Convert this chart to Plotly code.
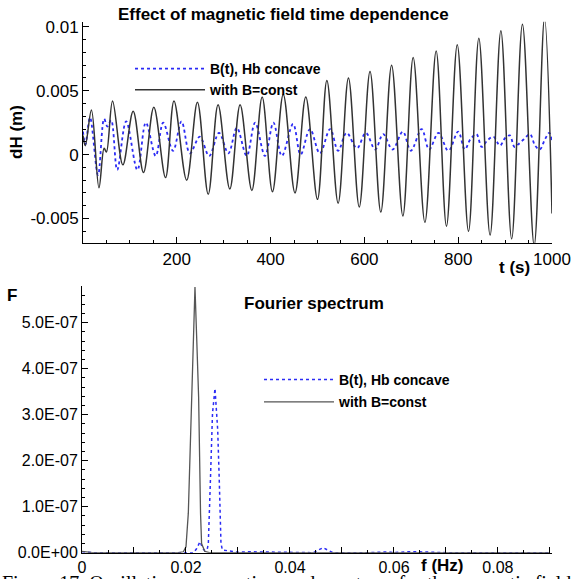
import plotly.graph_objects as go

# ---------------- data: time series (top panel) ----------------
t_const = [0, 5, 18, 34, 45, 50, 63, 85, 107, 129, 151, 176, 194, 221, 244, 267, 288,
           313, 335, 360, 382, 404, 427, 452, 475, 500, 520, 544, 566, 589, 612, 635,
           658, 682, 704, 729, 753, 775, 798, 822, 844, 868, 891, 914, 937, 962, 984, 1000]
dH_const = [0.0015, 0.0007, 0.0035, -0.0026, 0.0005, 0.0002, 0.0042, -0.0008, 0.0034,
            -0.0014, 0.0037, -0.0018, 0.0042, -0.0020, 0.0041, -0.0031, 0.0039, -0.0027,
            0.0039, -0.0028, 0.0045, -0.0029, 0.0047, -0.0030, 0.0045, -0.0035, 0.0058,
            -0.0038, 0.0060, -0.0041, 0.0065, -0.0045, 0.0070, -0.0048, 0.0076, -0.0053,
            0.0081, -0.0056, 0.0086, -0.0060, 0.0091, -0.0063, 0.0097, -0.0066, 0.0102,
            -0.0071, 0.0107, -0.0046]

t_bt = [0, 5, 15, 32, 45, 52, 60, 73, 92, 116, 134, 155, 171, 192, 210, 228, 249, 269,
        290, 310, 328, 349, 367, 388, 406, 424, 448, 464, 484, 505, 527, 544, 562, 584,
        603, 623, 640, 660, 682, 699, 722, 738, 758, 779, 800, 814, 826, 839, 850, 862,
        875, 889, 900, 910, 920, 928, 940, 953, 964, 974, 985, 994, 1000]
dH_bt = [0.0018, 0.0008, 0.0029, -0.0016, 0.0028, 0.0022, 0.0027, -0.0012, 0.0026,
         -0.0012, 0.0025, -0.0001, 0.0025, 0.0003, 0.0026, 0.0001, 0.0014, -0.0001,
         0.0017, 0.0001, 0.0021, -0.0001, 0.0025, -0.0001, 0.0025, -0.0001, 0.0024,
         0.0000, 0.0020, 0.0001, 0.0020, 0.0003, 0.0017, 0.0005, 0.0017, 0.0004,
         0.0016, 0.0004, 0.0018, 0.0003, 0.0020, 0.0004, 0.0017, 0.0003, 0.0018,
         0.0004, 0.0012, 0.0016, 0.0006, 0.0011, 0.0014, 0.0007, 0.0013, 0.0015,
         0.0006, 0.0008, 0.0012, 0.0016, 0.0007, 0.0004, 0.0012, 0.0017, 0.0011]

# ---------------- data: Fourier spectrum (bottom panel) ----------------
f_const = [0, 0.002, 0.01, 0.0185, 0.0195, 0.0200, 0.02045, 0.02096, 0.0214, 0.02173,
           0.02205, 0.02243, 0.0228, 0.0230, 0.0236, 0.0245, 0.03, 0.05, 0.07, 0.09]
F_const = [0.03e-7, 0, 0, 0, 0.02e-7, 0.13e-7, 0.86e-7, 3.0e-7, 4.7e-7, 5.78e-7,
           4.7e-7, 3.39e-7, 0.86e-7, 0.2e-7, 0.03e-7, 0, 0, 0, 0, 0]

f_bt = [0, 0.002, 0.015, 0.0214, 0.0220, 0.0227, 0.0232, 0.02365, 0.0241, 0.0243,
        0.0247, 0.0251, 0.02558, 0.0261, 0.0264, 0.02673, 0.0270, 0.0285, 0.0300,
        0.0320, 0.040, 0.0445, 0.0455, 0.0464, 0.0472, 0.0483, 0.055, 0.059, 0.0600,
        0.0623, 0.0646, 0.070, 0.09]
F_bt = [0.02e-7, 0, 0, 0, 0.08e-7, 0.24e-7, 0.1e-7, 0.04e-7, 0.08e-7, 0.2e-7,
        1.58e-7, 3.03e-7, 3.57e-7, 2.67e-7, 1.58e-7, 0.2e-7, 0.06e-7, 0.03e-7, 0.01e-7,
        0.02e-7, 0, 0, 0.06e-7, 0.11e-7, 0.06e-7, 0, 0, 0.02e-7, 0, 0.02e-7, 0.02e-7, 0, 0]

name_bt = "B(t), Hb concave"
name_const = "with B=const"

top_xticks = [200, 400, 600, 800, 1000]
top_yticks = [-0.005, 0, 0.005, 0.01]
top_ylabels = ["-0.005", "0", "0.005", "0.01"]
bot_xticks = [0, 0.01, 0.02, 0.03, 0.04, 0.05, 0.06, 0.07, 0.08, 0.09]
bot_xlabels = ["0", "", "0.02", "", "0.04", "", "0.06", "", "0.08", ""]
bot_yticks = [0, 1e-7, 2e-7, 3e-7, 4e-7, 5e-7]
bot_ylabels = ["0.0E+00", "1.0E-07", "2.0E-07", "3.0E-07", "4.0E-07", "5.0E-07"]

caption = "Figure 17. Oscillations versus time and spectrum for the magnetic field"

W, H = 571, 579
def px(x):
    return x / W
def py(y):
    return 1 - y / H

FONT = "Liberation Sans, Arial, sans-serif"
BLUE = "#2b2bf5"

fig = go.Figure()
fig.add_trace(go.Scatter(x=t_bt, y=dH_bt, mode="lines", name=name_bt,
                         line=dict(color=BLUE, width=1.8, dash="dot", shape="spline"),
                         xaxis="x", yaxis="y", legend="legend"))
fig.add_trace(go.Scatter(x=t_const, y=dH_const, mode="lines", name=name_const,
                         line=dict(color="#333333", width=1.5, shape="spline"),
                         xaxis="x", yaxis="y", legend="legend"))
fig.add_trace(go.Scatter(x=f_bt, y=F_bt, mode="lines", name=name_bt,
                         line=dict(color=BLUE, width=1.5, dash="dot"),
                         xaxis="x2", yaxis="y2", legend="legend2", legendgroup="a"))
fig.add_trace(go.Scatter(x=f_const, y=F_const, mode="lines", name=name_const,
                         line=dict(color="#555555", width=1.3),
                         xaxis="x2", yaxis="y2", legend="legend2", legendgroup="b"))

axis_common = dict(showline=True, linecolor="black", linewidth=1, showgrid=False,
                   zeroline=False, ticks="inside", tickcolor="black", ticklen=6,
                   tickwidth=1, mirror=False, automargin=False)

fig.update_layout(
    width=W, height=H,
    margin=dict(l=0, r=0, t=0, b=0, pad=0),
    paper_bgcolor="white", plot_bgcolor="white",
    font=dict(family=FONT, color="black"),
    xaxis=dict(domain=[px(83), px(552)], range=[0, 1000], anchor="y",
               tickmode="array", tickvals=top_xticks,
               tickfont=dict(size=17),
               minor=dict(dtick=50, tick0=0, ticks="inside", ticklen=3,
                          tickcolor="black"),
               **axis_common),
    yaxis=dict(domain=[py(243.3), py(21.7)], range=[-0.00694, 0.0104], anchor="x",
               tickmode="array", tickvals=top_yticks, ticktext=top_ylabels,
               tickfont=dict(size=17),
               minor=dict(dtick=0.001, tick0=0, ticks="inside", ticklen=3,
                          tickcolor="black"),
               **axis_common),
    xaxis2=dict(domain=[px(82), px(552)], range=[0, 0.0904], anchor="y2",
                tickmode="array", tickvals=bot_xticks, ticktext=bot_xlabels,
                tickfont=dict(size=16),
                minor=dict(dtick=0.005, tick0=0, ticks="inside", ticklen=3,
                           tickcolor="black"),
                **axis_common),
    yaxis2=dict(domain=[py(552.7), py(286)], range=[0, 5.8e-7], anchor="x2",
                tickmode="array", tickvals=bot_yticks, ticktext=bot_ylabels,
                tickfont=dict(size=16),
                minor=dict(dtick=0.2e-7, tick0=0, ticks="inside", ticklen=3,
                           tickcolor="black"),
                **axis_common),
    legend=dict(x=px(130), y=py(53), xanchor="left", yanchor="top",
                bgcolor="rgba(0,0,0,0)", itemwidth=70, tracegroupgap=0,
                font=dict(size=14, family=FONT, weight="bold")),
    legend2=dict(x=px(259), y=py(364), xanchor="left", yanchor="top",
                 bgcolor="rgba(0,0,0,0)", itemwidth=70, tracegroupgap=1,
                 font=dict(size=14, family=FONT, weight="bold")),
)

annotations = [
    dict(text="<b>Effect of magnetic field time dependence</b>", x=px(283), y=py(15),
         font=dict(size=17)),
    dict(text="<b>dH (m)</b>", x=px(16), y=py(132), textangle=-90, font=dict(size=17)),
    dict(text="<b>t (s)</b>", x=px(514), y=py(267), font=dict(size=17)),
    dict(text="<b>F</b>", x=px(12), y=py(295), font=dict(size=17)),
    dict(text="<b>Fourier spectrum</b>", x=px(314), y=py(303), font=dict(size=17)),
    dict(text="<b>f (Hz)</b>", x=px(442), y=py(565), font=dict(size=17)),
]
for a in annotations:
    a.update(xref="paper", yref="paper", showarrow=False, xanchor="center",
             yanchor="middle")
fig.update_layout(annotations=annotations)
fig.add_annotation(text=caption,
                   xref="paper", yref="paper", x=0, y=py(570), xanchor="left",
                   yanchor="top", showarrow=False,
                   font=dict(size=20, family="Liberation Serif, Times New Roman, serif"))

fig.write_html("out.html", config={"displayModeBar": False},
               post_script="document.body.style.margin='0';document.body.style.overflow='hidden';")
